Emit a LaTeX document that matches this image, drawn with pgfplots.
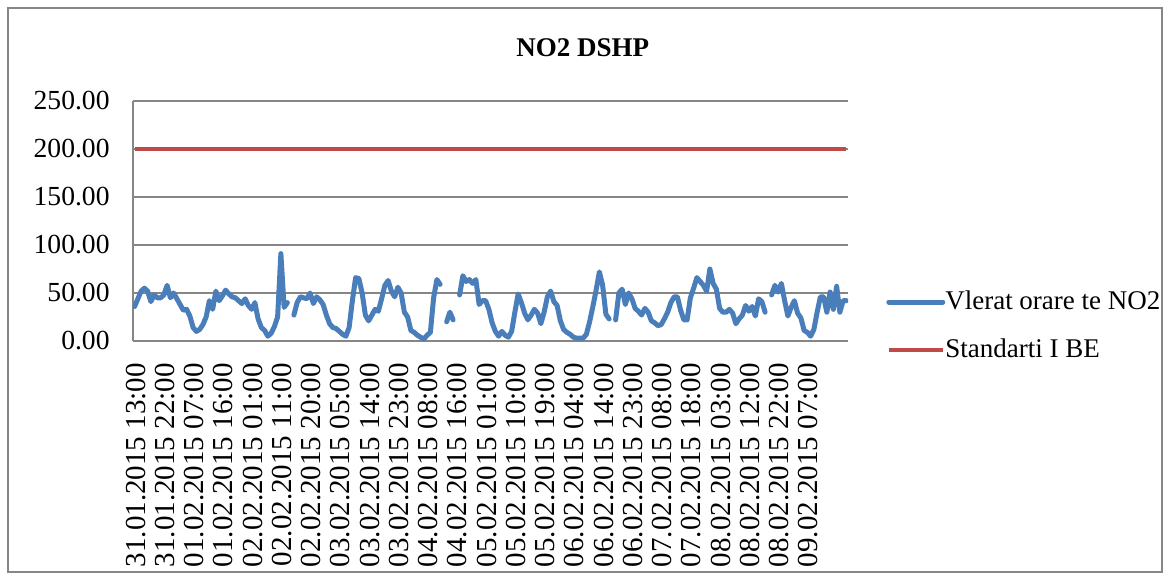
\documentclass[border=0pt]{standalone}
\usepackage{pgfplots}
\pgfplotsset{compat=1.18}
\usepackage{fontspec}
\setmainfont{Liberation Serif}
\definecolor{exblue}{HTML}{4A7EBB}
\definecolor{exred}{HTML}{BE4B48}
\definecolor{gridgray}{HTML}{868686}
\begin{document}
\begin{tikzpicture}
\begin{axis}[
  at={(0,0)}, anchor=south west,
  scale only axis, width=357.5pt, height=120pt,
  xmin=-0.5, xmax=219.5, ymin=0, ymax=250,
  axis x line*=bottom, axis y line*=left,
  axis line style={gridgray, line width=0.6pt},
  major tick length=0pt,
  ytick={0,50,100,150,200,250},
  ymajorgrids, grid style={gridgray, line width=0.6pt},
  /pgf/number format/assume math mode=true,
  yticklabel={\pgfmathprintnumber[fixed,fixed zerofill,precision=2]{\tick}},
  yticklabel style={font=\fontsize{13.8}{16}\selectfont, inner sep=0pt, xshift=-11.5pt},
  xtick={0,9,...,207},
  xticklabels={31.01.2015 13:00,31.01.2015 22:00,01.02.2015 07:00,01.02.2015 16:00,02.02.2015 01:00,02.02.2015 11:00,02.02.2015 20:00,03.02.2015 05:00,03.02.2015 14:00,03.02.2015 23:00,04.02.2015 08:00,04.02.2015 16:00,05.02.2015 01:00,05.02.2015 10:00,05.02.2015 19:00,06.02.2015 04:00,06.02.2015 14:00,06.02.2015 23:00,07.02.2015 08:00,07.02.2015 18:00,08.02.2015 03:00,08.02.2015 12:00,08.02.2015 22:00,09.02.2015 07:00},
  xticklabel style={font=\fontsize{14.5}{16}\selectfont, rotate=90, anchor=east, inner sep=0pt, xshift=-11pt, yshift=-0.5pt},
  title={NO2 DSHP},
  title style={font=\fontsize{13.5}{16}\selectfont\bfseries, at={(0.629,1)}, anchor=center, yshift=20.5pt},
  unbounded coords=jump,
  legend cell align=left,
  legend style={draw=none, fill=none, at={(1.053,0.0625)}, anchor=west, inner sep=0pt,
    font=\fontsize{13.5}{16}\selectfont, row sep=11pt, column sep=0pt,
    nodes={inner sep=0pt, text height=10pt, text depth=3pt}},
  legend image code/.code={\draw[#1] (0pt,0pt) -- (27pt,0pt);},
]
\addplot[exblue, line width=2.5pt, line join=round, line cap=round] table[x=x,y=y] {
x y
0 36
1 44
2 52
3 55
4 52
5 41
6 48
7 45
8 45
9 48
10 58
11 45
12 50
13 44
14 38
15 32
16 33
17 26
18 14
19 10
20 12
21 17
22 25
23 42
24 33
25 52
26 42
27 47
28 53
29 49
30 46
31 45
32 42
33 39
34 44
35 37
36 33
37 40
38 23
39 14
40 11
41 5
42 8
43 15
44 25
45 91
46 35
47 40
48 nan
49 27
50 40
51 46
52 45
53 44
54 50
55 39
56 46
57 43
58 38
59 27
60 18
61 14
62 13
63 10
64 7
65 5
66 14
67 42
68 66
69 65
70 50
71 27
72 21
73 27
74 33
75 31
76 44
77 58
78 63
79 52
80 46
81 56
82 50
83 30
84 25
85 11
86 9
87 6
88 4
89 2
90 6
91 9
92 45
93 64
94 59
95 nan
96 20
97 30
98 22
99 nan
100 48
101 68
102 62
103 64
104 60
105 64
106 38
107 42
108 42
109 33
110 19
111 10
112 5
113 10
114 6
115 4
116 10
117 30
118 49
119 40
120 29
121 22
122 27
123 33
124 29
125 18
126 30
127 46
128 52
129 41
130 37
131 21
132 12
133 9
134 7
135 4
136 3
137 3
138 3
139 7
140 20
141 36
142 53
143 72
144 58
145 28
146 23
147 nan
148 22
149 50
150 54
151 38
152 50
153 44
154 34
155 31
156 27
157 34
158 30
159 21
160 19
161 16
162 17
163 23
164 30
165 40
166 46
167 46
168 32
169 22
170 22
171 45
172 55
173 66
174 62
175 58
176 52
177 75
178 60
179 54
180 34
181 30
182 30
183 33
184 29
185 18
186 23
187 27
188 37
189 31
190 36
191 26
192 44
193 41
194 30
195 nan
196 48
197 58
198 51
199 60
200 42
201 26
202 35
203 42
204 29
205 24
206 11
207 9
208 5
209 12
210 30
211 46
212 46
213 30
214 51
215 33
216 57
217 30
218 42
219 42
};
\addlegendentry{Vlerat orare te NO2}
\addplot[exred, line width=2.3pt] coordinates {(0,200) (219,200)};
\addlegendentry{Standarti I BE}
\end{axis}
\draw[gridgray, line width=0.8pt] (-62.5pt,166.5pt) rectangle (514.5pt,-115.5pt);
\path (-66.5pt,-118.5pt) rectangle (517.5pt,170.5pt);
\end{tikzpicture}
\end{document}
